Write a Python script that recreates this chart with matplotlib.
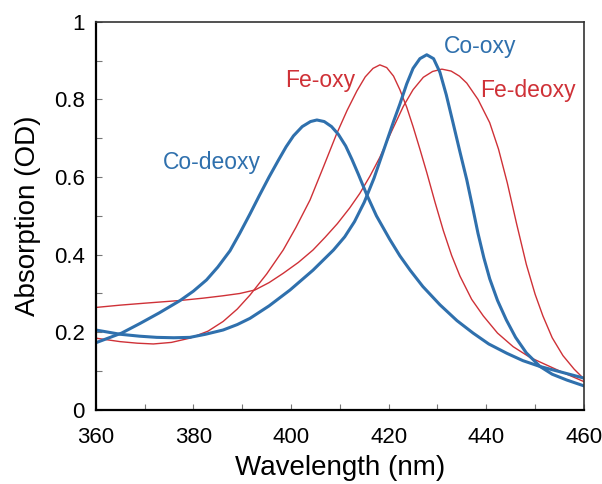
import matplotlib
matplotlib.use('Agg')
import matplotlib.pyplot as plt
from matplotlib.ticker import MultipleLocator

plt.rcParams['font.family'] = ['Liberation Sans', 'DejaVu Sans']

# spectra (wavelength nm, absorption OD)
co_deoxy_x = [360, 365.3, 369.1, 373, 377.3, 380, 382.7, 385, 387.5, 389.5, 391.6, 393.5,
              395.5, 397.4, 399, 400.5, 402.3, 404, 405.3, 406.8, 408.3, 409.7, 411.2,
              412.5, 413.8, 415.5, 417.5, 420.2, 422.3, 424.4, 427, 430.5, 434, 437.3,
              440.5, 444.2, 447.5, 451, 455.5, 460]
co_deoxy_y = [0.173, 0.198, 0.223, 0.25, 0.282, 0.306, 0.335, 0.368, 0.41, 0.455, 0.505, 0.552,
              0.6, 0.643, 0.678, 0.706, 0.73, 0.743, 0.747, 0.743, 0.73, 0.71, 0.68,
              0.645, 0.607, 0.555, 0.5, 0.44, 0.397, 0.36, 0.318, 0.271, 0.23, 0.198,
              0.17, 0.146, 0.127, 0.112, 0.097, 0.082]

co_oxy_x = [360, 365, 369, 372.5, 376, 379.3, 382.5, 386.1, 389, 391.6, 395.5, 399.8,
            404.5, 408.7, 411, 413, 415, 417, 419, 421, 422.3, 423.7, 425, 426.4,
            427.8, 429.2, 430.5, 431.8, 433.2, 434.6, 436, 437.2, 438.3, 439.5, 440.7,
            442.3, 444.1, 446, 448.2, 451, 453.5, 456.5, 460]
co_oxy_y = [0.206, 0.195, 0.19, 0.187, 0.186, 0.187, 0.195, 0.206, 0.22, 0.236, 0.268, 0.309,
            0.36, 0.412, 0.446, 0.485, 0.535, 0.597, 0.67, 0.743, 0.788, 0.84, 0.88, 0.905,
            0.915, 0.905, 0.87, 0.812, 0.739, 0.665, 0.593, 0.522, 0.455, 0.392, 0.338,
            0.282, 0.232, 0.187, 0.147, 0.112, 0.092, 0.077, 0.062]

fe_oxy_x = [360, 365, 368.5, 371.8, 375.5, 379.3, 383, 386.1, 389, 391.6, 395, 398.4,
            401, 403.9, 406.7, 409.3, 411.5, 413.5, 415.2, 416.8, 418.2, 419.6, 421,
            422.3, 423.7, 425, 426.4, 427.8, 429.5, 431.2, 432.9, 434.6, 437, 439.4,
            442.3, 445.5, 449, 453, 456.5, 460]
fe_oxy_y = [0.185, 0.176, 0.172, 0.170, 0.174, 0.185, 0.203, 0.228, 0.26, 0.296, 0.35, 0.412,
            0.47, 0.541, 0.628, 0.71, 0.772, 0.822, 0.858, 0.88, 0.889, 0.882, 0.86,
            0.825, 0.78, 0.73, 0.672, 0.612, 0.535, 0.462, 0.398, 0.345, 0.285, 0.242,
            0.198, 0.163, 0.135, 0.112, 0.092, 0.073]

fe_deoxy_x = [360, 365, 370, 377.3, 382, 386, 389.5, 392.6, 395.5, 398.4, 401.5, 404.5,
              407, 409.5, 412, 414.1, 416.2, 418.2, 420.5, 423, 425, 427.1, 429, 430.9,
              432.8, 434.5, 436, 438.3, 440.7, 442.5, 444.3, 446.2, 448.2, 450, 451.6,
              453.5, 455.7, 458, 460]
fe_deoxy_y = [0.264, 0.27, 0.275, 0.282, 0.288, 0.294, 0.30, 0.309, 0.328, 0.352, 0.38, 0.412,
              0.445, 0.48, 0.52, 0.558, 0.603, 0.651, 0.715, 0.782, 0.825, 0.857, 0.872, 0.878,
              0.873, 0.86, 0.842, 0.8, 0.74, 0.672, 0.585, 0.48, 0.375, 0.298, 0.242,
              0.186, 0.14, 0.105, 0.08]

labels = ['Co-deoxy', 'Fe-oxy', 'Co-oxy', 'Fe-deoxy']
label_x = [383.8, 405.9, 438.7, 448.5]
label_y = [0.638, 0.85, 0.936, 0.822]

blue = '#2f70ad'
red = '#cf3137'

fig = plt.figure(figsize=(6.02, 4.84), dpi=100)
ax = fig.add_axes([0.159, 0.153, 0.811, 0.802])

ax.plot(fe_oxy_x, fe_oxy_y, color=red, lw=1.0)
ax.plot(fe_deoxy_x, fe_deoxy_y, color=red, lw=1.0)
ax.plot(co_deoxy_x, co_deoxy_y, color=blue, lw=2.2)
ax.plot(co_oxy_x, co_oxy_y, color=blue, lw=2.2)

label_colors = [blue, red, blue, red]
for t, x, y, c in zip(labels, label_x, label_y, label_colors):
    ax.text(x, y, t, color=c, fontsize=16.5, ha='center', va='center')

ax.set_xlim(360, 460)
ax.set_ylim(0, 1)
ax.xaxis.set_major_locator(MultipleLocator(20))
ax.xaxis.set_minor_locator(MultipleLocator(10))
ax.yaxis.set_minor_locator(MultipleLocator(0.1))
ax.set_yticks([0, 0.2, 0.4, 0.6, 0.8, 1])
ax.set_yticklabels(['0', '0.2', '0.4', '0.6', '0.8', '1'])
ax.tick_params(which='both', direction='in', length=4, width=0.8, color='#777777',
               labelsize=16)
ax.tick_params(axis='x', pad=12)
ax.tick_params(axis='y', pad=8)

for s in ['left', 'bottom']:
    ax.spines[s].set_linewidth(1.6)
    ax.spines[s].set_color('black')
for s in ['top', 'right']:
    ax.spines[s].set_linewidth(1.2)
    ax.spines[s].set_color('#333333')

ax.set_xlabel('Wavelength (nm)', fontsize=20, labelpad=5)
ax.set_ylabel('Absorption (OD)', fontsize=20, labelpad=9)

fig.savefig('out.png', dpi=100)
